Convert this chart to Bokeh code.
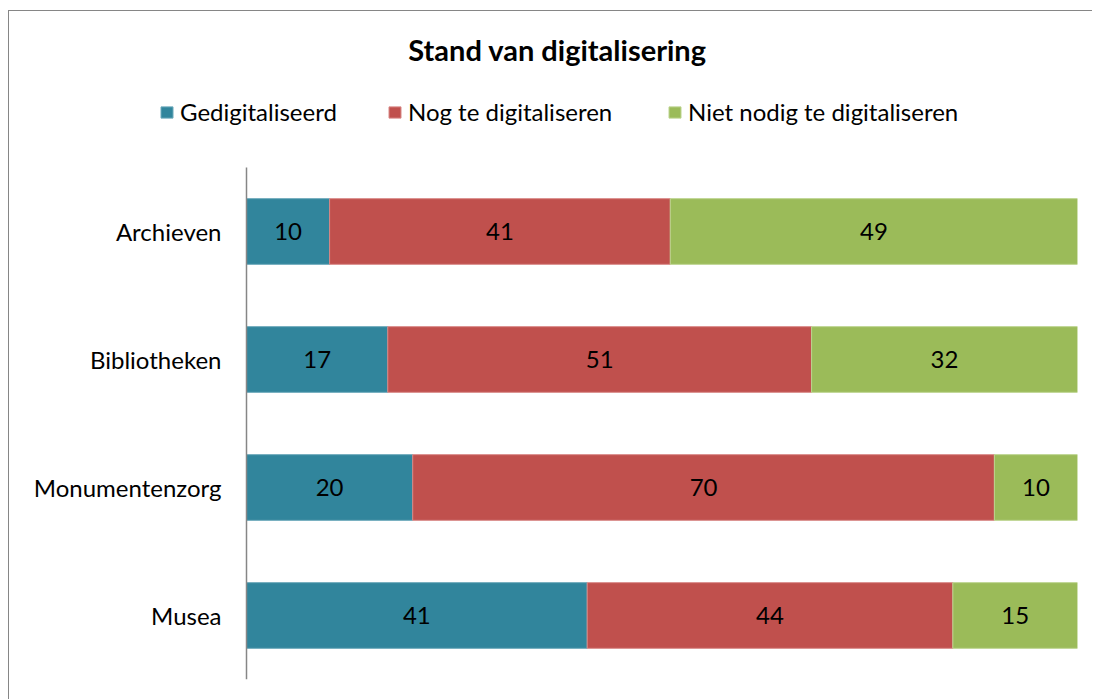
from bokeh.plotting import figure
from bokeh.models import ColumnDataSource, Range1d, Legend, LegendItem, Label
from bokeh.embed import file_html
from bokeh.resources import INLINE
from bokeh.core.properties import value

categories = ["Archieven", "Bibliotheken", "Monumentenzorg", "Musea"]
gedigitaliseerd = [10, 17, 20, 41]
nog_te = [41, 51, 70, 44]
niet_nodig = [49, 32, 10, 15]
series_names = ["Gedigitaliseerd", "Nog te digitaliseren", "Niet nodig te digitaliseren"]
title_text = "Stand van digitalisering"
colors = ["#31859C", "#C0504D", "#9BBB59"]
edge_colors = ["#6AA8BA", "#D88886", "#BCD48E"]

FONT = "Lato"
FS = "24px"

# layout constants (pixels)
W, H = 1084, 689
FRAME_BOTTOM = 21
PX_PER_CAT = 128.0
PX_PER_PCT = 8.31
AXIS_X_PX = 237          # x of value 0 from frame left

n = len(categories)
ypos = [n - 1 - i for i in range(n)]   # first category on top
frame_h = H - FRAME_BOTTOM
frame_w = W - 16
y0 = -0.5
y_end = y0 + frame_h / PX_PER_CAT
x_start = -AXIS_X_PX / PX_PER_PCT
x_end = x_start + frame_w / PX_PER_PCT

p = figure(width=W, height=H, x_range=Range1d(x_start, x_end), y_range=Range1d(y0, y_end),
           output_backend="svg", toolbar_location=None,
           x_axis_location=None, y_axis_location=None,
           min_border_left=0, min_border_right=16, min_border_top=0, min_border_bottom=FRAME_BOTTOM,
           styles={"border-left": "1px solid #868686", "border-top": "1px solid #868686",
                   "margin-left": "8px", "margin-top": "10px"})
p.outline_line_color = None
p.xgrid.visible = False
p.ygrid.visible = False

keys = ["g", "n", "m"]
src = ColumnDataSource(dict(y=ypos, g=gedigitaliseerd, n=nog_te, m=niet_nodig))
renderers = p.hbar_stack(keys, y="y", height=0.513, source=src,
                         fill_color=colors, line_color=edge_colors, line_width=1)

# category axis: line at value 0 and labels
p.segment(x0=[0], y0=[-0.5], x1=[0], y1=[n - 0.5], line_color="#868686", line_width=1.5)
p.text(x=[0] * n, y=ypos, text=categories, x_offset=-25, text_align="right",
       text_baseline="middle", text_font=value(FONT), text_font_size=FS, text_color="#000000")

# data labels at segment centres
lab_x, lab_y, lab_t = [], [], []
for i in range(n):
    vals = [gedigitaliseerd[i], nog_te[i], niet_nodig[i]]
    start = 0
    for v in vals:
        lab_x.append(start + v / 2)
        lab_y.append(ypos[i])
        lab_t.append(str(v))
        start += v
lsrc = ColumnDataSource(dict(x=lab_x, y=lab_y, t=lab_t))
p.text(x="x", y="y", text="t", source=lsrc, text_align="center", text_baseline="middle",
       text_font=value(FONT), text_font_size=FS, text_color="#000000")

# legend: one entry per series, placed like the reference
leg_x = [150, 378, 658]
for i in range(3):
    lg = Legend(items=[LegendItem(label=series_names[i], renderers=[renderers[i]])],
                orientation="horizontal", location=(leg_x[i], 553),
                padding=0, margin=0, spacing=0, label_standoff=6,
                glyph_width=15, glyph_height=14,
                label_text_font=FONT, label_text_font_size=FS, label_text_color="#000000",
                border_line_color=None, background_fill_alpha=0)
    p.add_layout(lg, "center")

title = Label(x=x_start + 548 / PX_PER_PCT, y=y0 + (frame_h - 38) / PX_PER_CAT,
              text=title_text, text_align="center", text_baseline="middle",
              text_font=FONT, text_font_size="29px", text_font_style="bold", text_color="#000000")
p.add_layout(title)

open("out.html", "w").write(file_html(p, INLINE))
